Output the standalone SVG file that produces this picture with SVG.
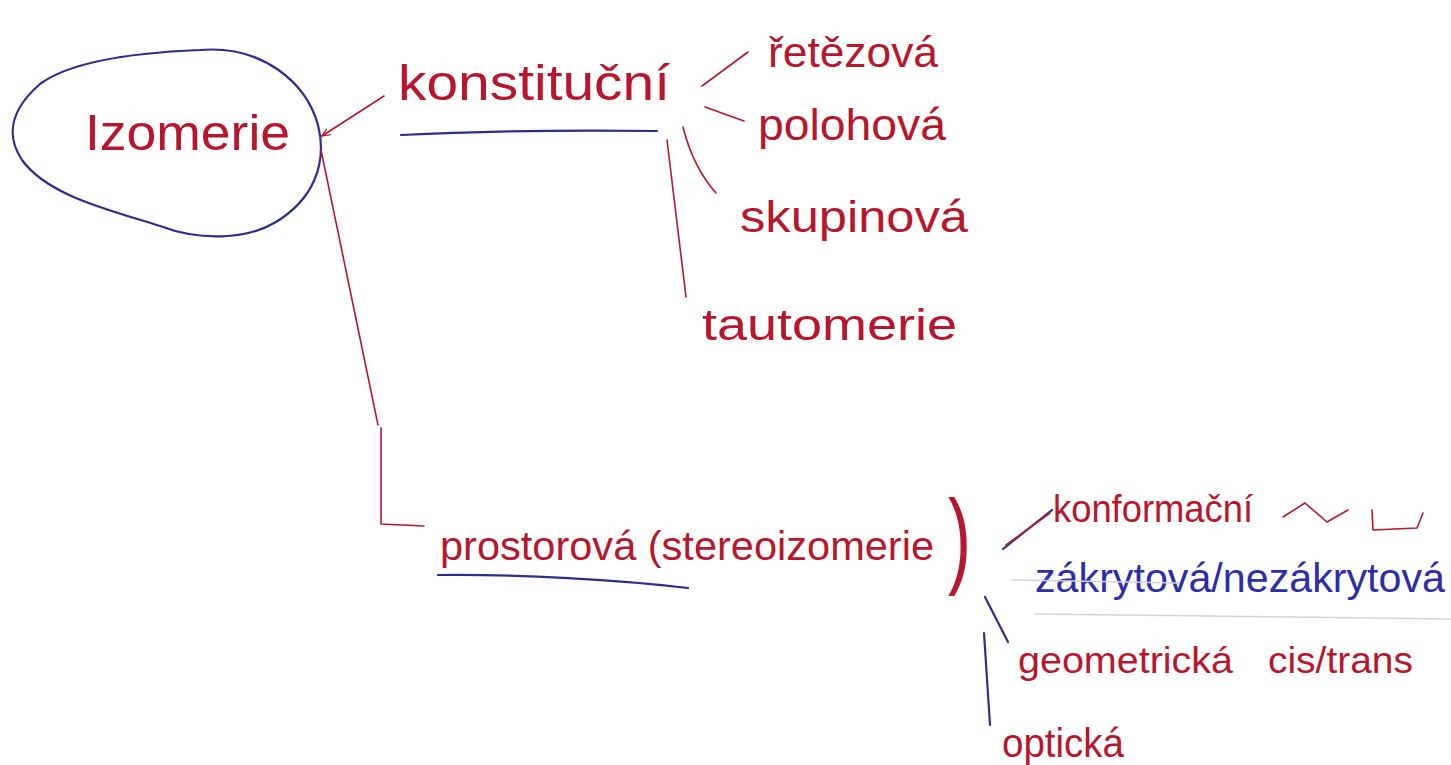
<svg xmlns="http://www.w3.org/2000/svg" width="1451" height="765" viewBox="0 0 1451 765">
<defs>
<style>
.r{fill:#b8162c;font-family:"Liberation Sans",Arial,sans-serif}
.b{fill:#2d2da8;font-family:"Liberation Sans",Arial,sans-serif}
.lr{fill:none;stroke:#b8162c;stroke-width:1.6;stroke-linecap:round;stroke-linejoin:round}
.lb{fill:none;stroke:#2f2c8f;stroke-width:2.2;stroke-linecap:round;stroke-linejoin:round}
.lg{fill:none;stroke:#d4d4d4;stroke-width:1.5}
</style>
<marker id="ah" viewBox="0 0 10 10" refX="9" refY="5" markerWidth="9" markerHeight="9" orient="auto" markerUnits="userSpaceOnUse">
<path d="M0,1 L9,5 L0,9" fill="none" stroke="#b8162c" stroke-width="1.4"/>
</marker>
</defs>
<rect width="1451" height="765" fill="#ffffff"/>
<g id="izomerie">
<path class="lb" d="M200,50 C262,45 306,82 318,125 C328,165 312,200 276,222 C246,240 200,241 160,226 C110,210 48,196 22,160 C6,136 10,110 40,84 C75,58 150,52 200,50 Z"/>
<text class="r" x="85" y="150" font-size="50" textLength="205" lengthAdjust="spacingAndGlyphs">Izomerie</text>
</g>
<g id="konstitucni">
<text class="r" x="398" y="100" font-size="50" textLength="272" lengthAdjust="spacingAndGlyphs">konstituční</text>
<path class="lb" d="M401,135 C480,131 580,130 657,131"/>
</g>
<g id="retezova"><text class="r" x="768" y="67" font-size="42" textLength="170" lengthAdjust="spacingAndGlyphs">řetězová</text></g>
<g id="polohova"><text class="r" x="758" y="140" font-size="44" textLength="188" lengthAdjust="spacingAndGlyphs">polohová</text></g>
<g id="skupinova"><text class="r" x="740" y="232" font-size="44" textLength="228" lengthAdjust="spacingAndGlyphs">skupinová</text></g>
<g id="tautomerie"><text class="r" x="702" y="340" font-size="44" textLength="255" lengthAdjust="spacingAndGlyphs">tautomerie</text></g>
<g id="prostorova">
<text class="r" x="440" y="560" font-size="41.5" textLength="494" lengthAdjust="spacingAndGlyphs">prostorová (stereoizomerie</text>
<text class="r" font-size="46" transform="translate(948,574) scale(1.5,2.3)">)</text>
<path class="lb" d="M438,575 C520,574 620,580 688,588"/>
</g>
<g id="konformacni">
<text class="r" x="1053" y="522" font-size="38" textLength="200" lengthAdjust="spacingAndGlyphs">konformační</text>
<path class="lr" d="M1283,517 L1305,503 L1327,522 L1348,510"/>
<path class="lr" d="M1372,510 L1373,530 L1417,528 L1423,513"/>
</g>
<g id="zakrytova">
<text class="b" x="1035" y="592" font-size="41" textLength="410" lengthAdjust="spacingAndGlyphs">zákrytová/nezákrytová</text>
</g>
<g id="geometricka">
<text class="r" font-size="36" y="673"><tspan x="1018" textLength="215" lengthAdjust="spacingAndGlyphs">geometrická</tspan><tspan x="1268" textLength="145" lengthAdjust="spacingAndGlyphs">cis/trans</tspan></text>
</g>
<g id="opticka"><text class="r" x="1002" y="757" font-size="40" textLength="122" lengthAdjust="spacingAndGlyphs">optická</text></g>
<g id="connectors">
<path class="lr" d="M384,96 L322,136" marker-end="url(#ah)"/>
<path class="lr" d="M702,86 L748,52"/>
<path class="lr" d="M705,107 L744,121"/>
<path class="lr" d="M683,127 C690,155 700,175 716,193"/>
<path class="lr" d="M667,140 L686,297"/>
<path class="lr" d="M321,150 L378,425"/>
<path class="lr" d="M381,428 L381,524 L424,526"/>
<path class="lb" d="M1003,549 L1052,510" stroke-width="3.5"/>
<path class="lr" d="M1006,545 L1050,513"/>
<path class="lb" d="M985,597 L1008,642" stroke-width="3"/>
<path class="lb" d="M984,633 L990,725" stroke-width="3"/>
<path class="lg" d="M1035,614 L1451,619"/>
<path class="lg" d="M1012,580 L1180,583" stroke="#e6e6e6"/>
</g>
</svg>
